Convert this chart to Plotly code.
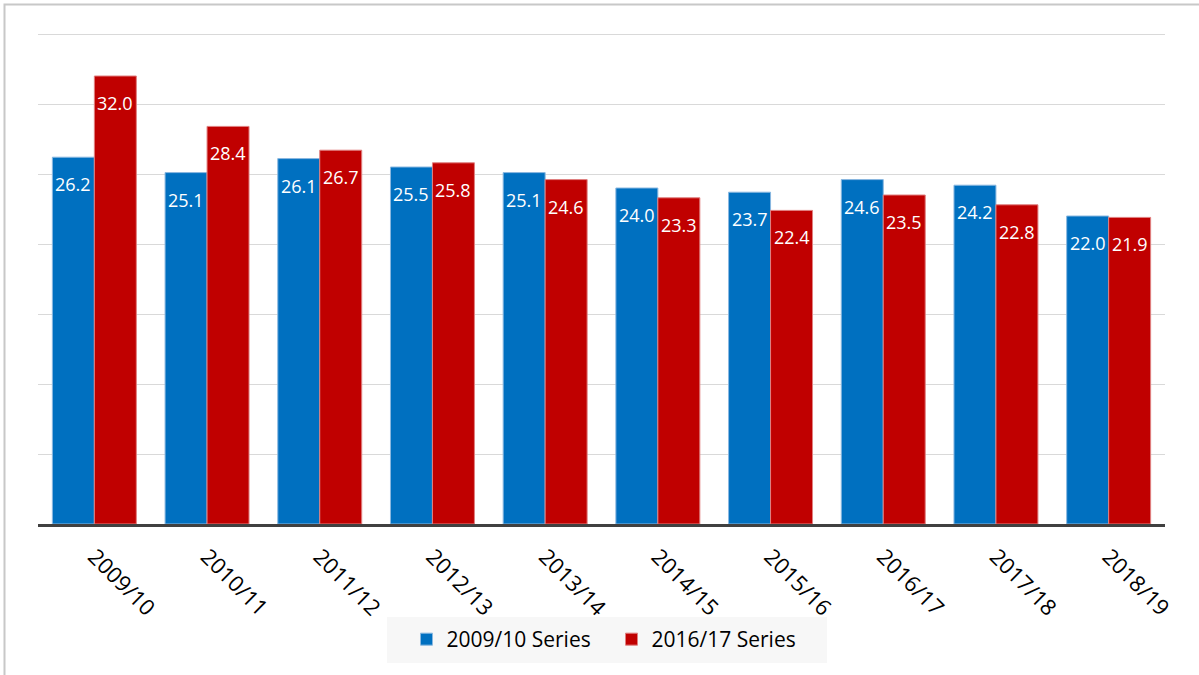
import plotly.graph_objects as go

# Academic years on the category axis
years = ["2009/10", "2010/11", "2011/12", "2012/13", "2013/14",
         "2014/15", "2015/16", "2016/17", "2017/18", "2018/19"]

# Values for each series
series_2009 = [26.2, 25.1, 26.1, 25.5, 25.1, 24.0, 23.7, 24.6, 24.2, 22.0]
series_2016 = [32.0, 28.4, 26.7, 25.8, 24.6, 23.3, 22.4, 23.5, 22.8, 21.9]

series_names = ["2009/10 Series", "2016/17 Series"]

BLUE = "#0070c0"
RED = "#c00000"
FONT = "Open Sans"

# Plot area in pixels (used to convert frame/legend positions to paper units)
PL, PR, PT, PB = 38, 1165, 31, 524
PW, PH = PR - PL, PB - PT
Y_TOP = 35 * PH / 490  # keeps 5 units = 70 px with a small headroom above the top grid line


def px_x(x):
    return (x - PL) / PW


def px_y(y):
    return (PB - y) / PH


fig = go.Figure()
fig.add_trace(go.Bar(
    x=years, y=series_2009, name=series_names[0],
    marker=dict(color=BLUE, line=dict(color="#8ab8e0", width=1)),
))
fig.add_trace(go.Bar(
    x=years, y=series_2016, name=series_names[1],
    marker=dict(color=RED, line=dict(color="#e08080", width=1)),
))

# Value labels sit just inside the top of each bar
annotations = []
for vals, shift in ((series_2009, -21), (series_2016, 21)):
    for yr, v in zip(years, vals):
        annotations.append(dict(
            x=yr, y=v, xref="x", yref="y", text=f"{v:.1f}",
            showarrow=False, xshift=shift, yshift=-27,
            font=dict(family=FONT, size=18, color="white"),
        ))

shapes = [
    # Frame around the chart (left and top edges visible)
    dict(
        type="rect", xref="paper", yref="paper",
        x0=px_x(4.5), x1=px_x(1210), y0=px_y(690), y1=px_y(4.5),
        line=dict(color="#c8c8c8", width=2), fillcolor="rgba(0,0,0,0)",
        layer="below",
    ),
    # Legend background panel
    dict(
        type="rect", xref="paper", yref="paper",
        x0=px_x(387), x1=px_x(827), y0=px_y(663), y1=px_y(617),
        line=dict(width=0), fillcolor="#f7f7f7", layer="below",
    ),
]

fig.update_layout(
    width=1199, height=675,
    margin=dict(l=PL, r=1199 - PR, t=PT, b=675 - PB),
    paper_bgcolor="white", plot_bgcolor="white",
    barmode="group", bargap=0.255, bargroupgap=0,
    font=dict(family=FONT, size=18, color="#000000"),
    showlegend=True,
    legend=dict(
        orientation="h", x=px_x(406.5), xanchor="left",
        y=px_y(619), yanchor="top",
        bgcolor="rgba(0,0,0,0)",
        font=dict(family=FONT, size=21, color="#000000"),
        entrywidth=160, entrywidthmode="pixels",
    ),
    annotations=annotations,
    shapes=shapes,
    xaxis=dict(
        type="category", tickangle=45, showgrid=False,
        showline=True, linecolor="#404040", linewidth=3,
        ticks="", ticklabelstandoff=8,
        tickfont=dict(family=FONT, size=22, color="#000000"),
    ),
    yaxis=dict(
        range=[0, Y_TOP], tickmode="linear", tick0=0, dtick=5,
        showticklabels=False,
        showgrid=True, gridcolor="#d9d9d9", gridwidth=1,
        zeroline=False, showline=False, ticks="",
    ),
)

fig.write_html("out.html")
